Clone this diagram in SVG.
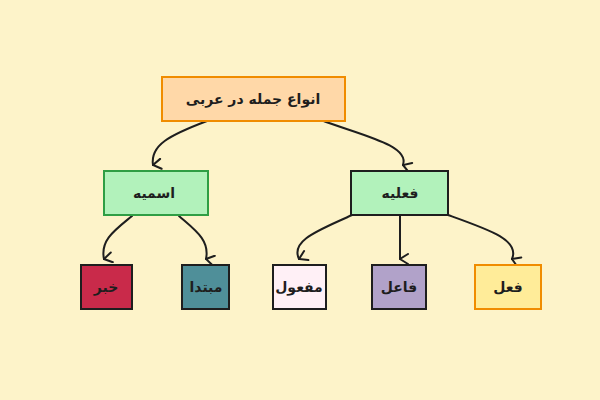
<svg xmlns="http://www.w3.org/2000/svg" width="600" height="400" viewBox="0 0 600 400">
<defs>
<style>
text{font-family:"DejaVu Sans","Noto Sans",sans-serif;font-weight:bold;font-size:14px;text-anchor:middle;dominant-baseline:central;fill:#1e1e1e}
.c{fill:none;stroke:#1e1e1e;stroke-width:2;stroke-linecap:round}
.b{stroke-width:2}
</style>
<marker id="a" viewBox="0 0 12 12" refX="6" refY="11" markerWidth="12" markerHeight="12" markerUnits="userSpaceOnUse" orient="auto-start-reverse">
<path d="M1,3 L6,11 L11,3" fill="none" stroke="#1e1e1e" stroke-width="2" stroke-linecap="round"/>
</marker>
</defs>
<rect width="600" height="400" fill="#fdf3c9"/>
<g id="connectors">
<path class="c" d="M207,121 C170,135 150,145 153,165" marker-end="url(#a)"/>
<path class="c" d="M321,120 C360,135 410,145 403,165" marker-end="url(#a)"/>
<path class="c" d="M132,216 C115,230 100,240 104,259" marker-end="url(#a)"/>
<path class="c" d="M179,216 C195,230 210,240 206,259" marker-end="url(#a)"/>
<path class="c" d="M352,215 C320,230 290,240 299,259" marker-end="url(#a)"/>
<path class="c" d="M400,215 L400,259" marker-end="url(#a)"/>
<path class="c" d="M448,215 C490,230 520,240 512,259" marker-end="url(#a)"/>
</g>
<g id="root"><rect class="b" x="162" y="77" width="183" height="44" fill="#ffd8a8" stroke="#f08c00"/><text x="253" y="99">انواع جمله در عربی</text></g>
<g id="esmiye"><rect class="b" x="104" y="171" width="104" height="44" fill="#b2f2bb" stroke="#2f9e44"/><text x="154" y="193">اسمیه</text></g>
<g id="feliye"><rect class="b" x="351" y="171" width="97" height="44" fill="#b2f2bb" stroke="#1e1e1e"/><text x="400" y="193">فعلیه</text></g>
<g id="khabar"><rect class="b" x="81" y="265" width="51" height="44" fill="#c92a4a" stroke="#1e1e1e"/><text x="106" y="287">خبر</text></g>
<g id="mobtada"><rect class="b" x="182" y="265" width="47" height="44" fill="#4f8f99" stroke="#1e1e1e"/><text x="206" y="287">مبتدا</text></g>
<g id="mafool"><rect class="b" x="273" y="265" width="53" height="44" fill="#fff0f6" stroke="#1e1e1e"/><text x="299" y="287">مفعول</text></g>
<g id="fael"><rect class="b" x="372" y="265" width="54" height="44" fill="#b1a2c9" stroke="#1e1e1e"/><text x="399" y="287">فاعل</text></g>
<g id="fel"><rect class="b" x="475" y="265" width="66" height="44" fill="#ffec99" stroke="#f08c00"/><text x="508" y="287">فعل</text></g>
</svg>
